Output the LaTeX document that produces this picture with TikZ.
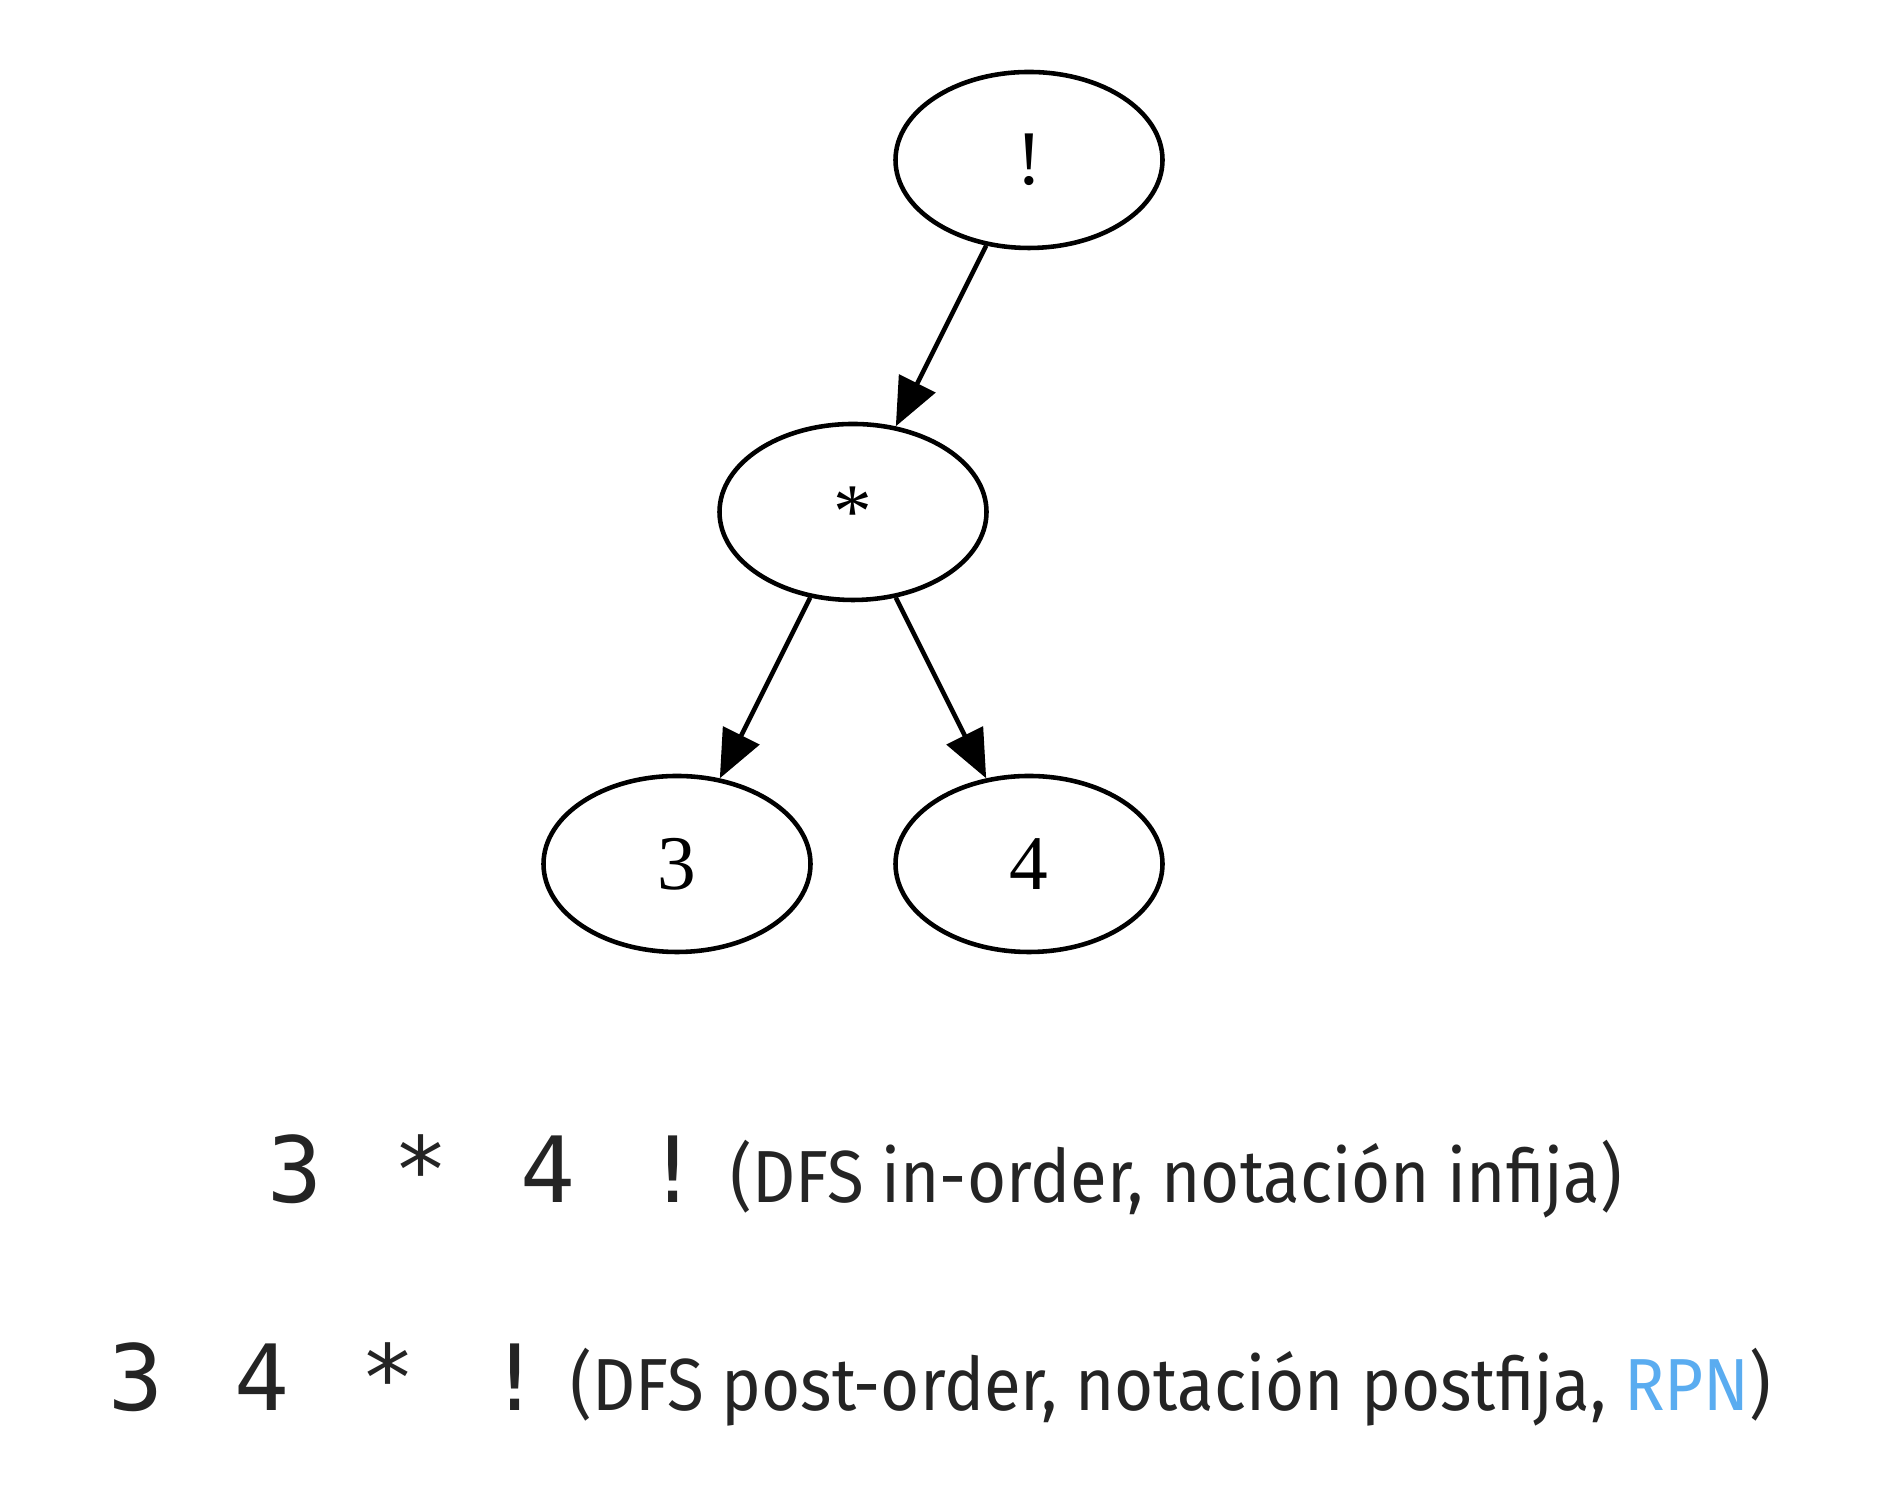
\documentclass[tikz,border=0pt]{standalone}
\usepackage{fontspec}
\usepackage{tikz}
\usetikzlibrary{arrows.meta,shapes.geometric}
\setmainfont{Liberation Serif}
\newfontfamily\notefont[FakeStretch=0.91]{Fira Sans}
\newfontfamily\tokenfont{DejaVu Sans Mono}
\definecolor{inktext}{RGB}{36,36,36}
\definecolor{rpnblue}{RGB}{90,172,240}

\begin{document}
\begin{tikzpicture}[
		treenode/.style={ellipse, draw, line width=1.3pt, minimum width=2.67cm, minimum height=1.76cm, inner sep=0pt, font=\fontsize{22}{23}\selectfont},
		treeedge/.style={-{Triangle[length=0.48cm, width=0.4cm]}, line width=1.3pt},
		token/.style={anchor=base, text=inktext, font=\tokenfont\fontsize{26}{27}\selectfont},
		note/.style={anchor=base west, text=inktext, inner sep=0pt, font=\notefont\fontsize{21}{22}\selectfont}
	]
				% Fix the page size
				\useasboundingbox (0,0) rectangle (19.02,14.90);
				
				% Draw the tree nodes
				\node[treenode] (fact) at (10.29,13.30) {!};
				\node[treenode] (mul) at (8.53,9.78) {*};
				\node[treenode] (three) at (6.77,6.26) {3};
				\node[treenode] (four) at (10.29,6.26) {4};
				
				% Draw the edges
				\draw[treeedge] (fact) -- (mul);
				\draw[treeedge] (mul) -- (three);
				\draw[treeedge] (mul) -- (four);
				
				% In-order line
				\node[token] (inA) at (2.95,2.87) {3};
				\node[token] (inB) at (4.21,2.87) {*};
				\node[token] (inC) at (5.48,2.87) {4};
				\node[token] (inD) at (6.73,2.87) {!};
				\node[note] (inText) at (7.30,2.87) {(DFS in-order, notación infija)};
				
				% Post-order line
				\node[token] (postA) at (1.36,0.79) {3};
				\node[token] (postB) at (2.62,0.79) {4};
				\node[token] (postC) at (3.88,0.79) {*};
				\node[token] (postD) at (5.15,0.79) {!};
				\node[note] (postText) at (5.70,0.79) {(DFS post-order, notación postfija, \textcolor{rpnblue}{RPN})};
			\end{tikzpicture}
\end{document}
